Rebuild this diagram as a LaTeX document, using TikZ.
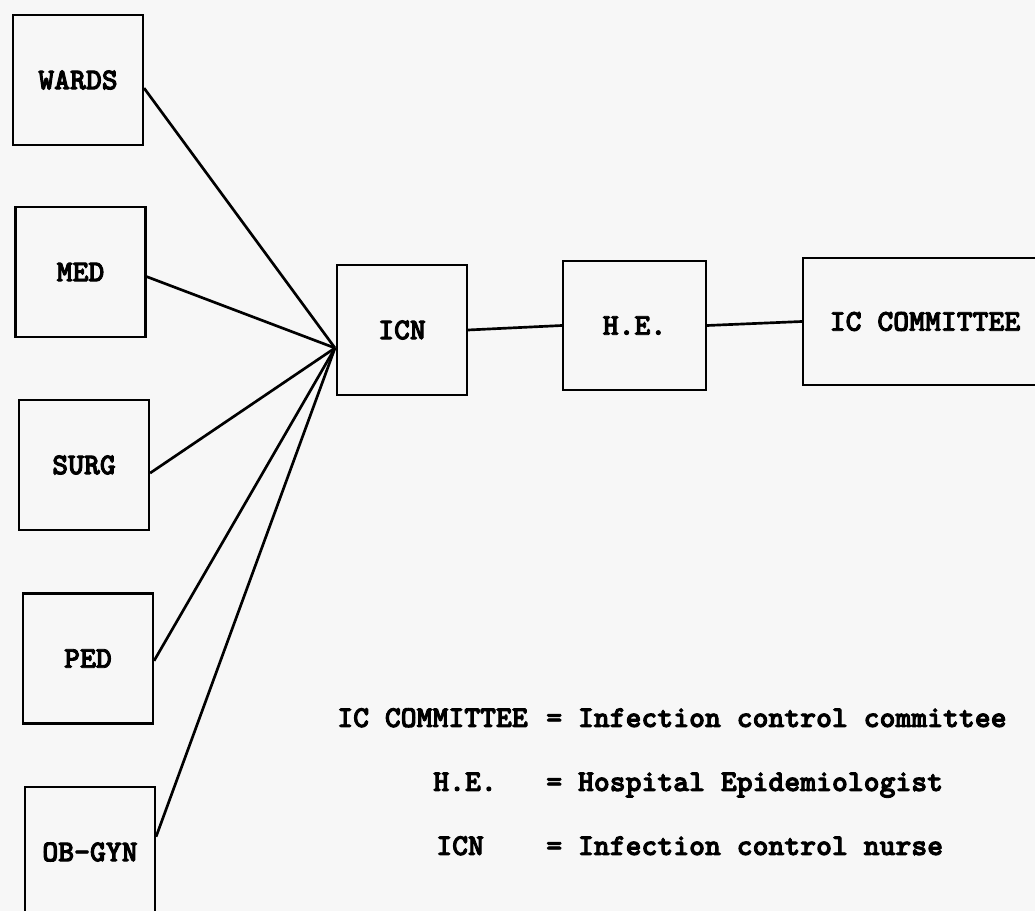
\documentclass[tikz,border=0pt]{standalone}
\usepackage{fontspec}
\newfontfamily\darktt{lmmonolt10-bold}[Extension=.otf, FakeBold=3]

\begin{document}
\begin{tikzpicture}[x=0.025cm, y=-0.025cm, font=\darktt\fontsize{21.5}{26}\selectfont,
  box/.style={draw, line width=1.5pt, minimum width=3.25cm, minimum height=3.25cm, inner sep=0pt},
  link/.style={line width=1.9pt},
  legend/.style={anchor=base west, inner sep=0pt}]
  \fill[black!3] (0,0) rectangle (1035,911);
  \clip (0,0) rectangle (1035,911);
  \node[box] (icn) at (402,330) {ICN};
  \node[box, minimum width=3.575cm, minimum height=3.225cm] (he) at (634.5,325.5) {H.E.};
  \node[box, minimum width=6.1cm, minimum height=3.175cm] (icc) at (925,321.5) {IC COMMITTEE};
  \coordinate (hub) at (335,348);
  \foreach \nm/\txt/\x/\y/\a in {wards/WARDS/78/80/-7, med/MED/80.5/272/-4, surg/SURG/84/465/-7,
                                 ped/PED/88/658.5/-2, obgyn/OB-GYN/90/852/13}
    {\node[box] (\nm) at (\x,\y) {\txt};
     \draw[link] (\nm.\a) -- (hub);}
  \draw[link] (icn.east) -- (he.west);
  \draw[link] (he.east) -- (icc.west);
  \node[legend] (legicc) at (337,727) {IC COMMITTEE};
  \node[legend] (leghe) at (433,791) {H.E.};
  \node[legend] (legicn) at (436,855) {ICN};
  \node[legend] (deficc) at (546,727) {= Infection control committee};
  \node[legend] (defhe) at (546,791) {= Hospital Epidemiologist};
  \node[legend] (deficn) at (546,855) {= Infection control nurse};
\end{tikzpicture}
\end{document}
